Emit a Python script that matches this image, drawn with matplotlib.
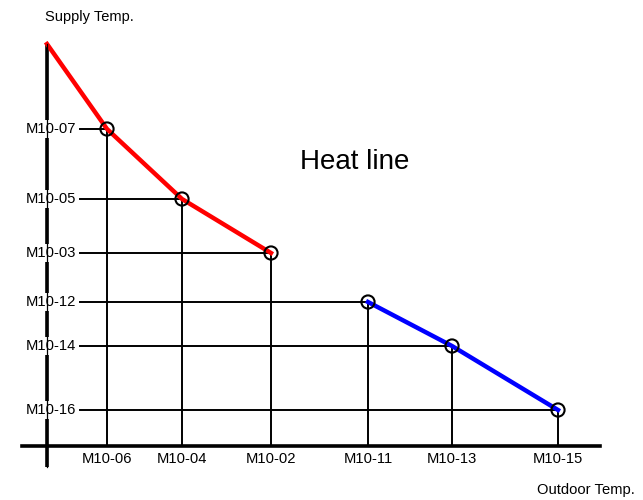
import matplotlib.pyplot as plt

plt.rcParams['font.family'] = ['Liberation Sans', 'DejaVu Sans']

# outdoor temperature set points (x) and supply temperature set points (y)
red_x = [0, 6.0, 13.5, 22.4]
red_y = [40.2, 31.7, 24.7, 19.3]
blue_x = [32.1, 40.5, 51.1]
blue_y = [14.4, 10.0, 3.6]

x_labels = ['M10-06', 'M10-04', 'M10-02', 'M10-11', 'M10-13', 'M10-15']
y_labels = ['M10-07', 'M10-05', 'M10-03', 'M10-12', 'M10-14', 'M10-16']

pts_x = red_x[1:] + blue_x
pts_y = red_y[1:] + blue_y

fig = plt.figure(figsize=(6.43, 5), dpi=100)
ax = fig.add_axes([0, 0, 1, 1])
ax.set_xlim(-4.7, 59.6)
ax.set_ylim(-5.4, 44.6)
ax.axis('off')

# axes
ax.plot([0, 0], [-2.1, 40.2], color='black', lw=2.6, zorder=2, solid_capstyle='butt')
ax.plot([0, 0], [-2.1, 40.2], color='black', lw=0.9, zorder=6)
ax.plot([-2.5, 55.3], [0, 0], color='black', lw=2.6, zorder=2)

# guide lines
for x, y in zip(pts_x, pts_y):
    ax.plot([3.3, x], [y, y], color='black', lw=1.4, zorder=3)
    ax.plot([x, x], [0, y], color='black', lw=1.4, zorder=3)

# heat line segments
ax.plot(red_x, red_y, color='#ff0000', lw=3.2, zorder=4, solid_joinstyle='round')
ax.plot(blue_x, blue_y, color='#0000ff', lw=3.2, zorder=4, solid_joinstyle='round')
ax.scatter(pts_x, pts_y, s=90, facecolors='none', edgecolors='black',
           linewidths=1.5, zorder=7)

# tick labels
for x, lab in zip(pts_x, x_labels):
    ax.text(x, -1.3, lab, ha='center', va='center', fontsize=10.6, zorder=5)
for y, lab in zip(pts_y, y_labels):
    ax.text(2.9, y, lab, ha='right', va='center', fontsize=10.6, zorder=5,
            bbox=dict(facecolor='white', edgecolor='none', pad=1.5))

ax.text(-0.2, 42.9, 'Supply Temp.', ha='left', va='center', fontsize=10.5)
ax.text(49.0, -4.4, 'Outdoor Temp.', ha='left', va='center', fontsize=10.6)
ax.text(30.8, 28.4, 'Heat line', ha='center', va='center', fontsize=20)

fig.savefig('out.png', dpi=100)
